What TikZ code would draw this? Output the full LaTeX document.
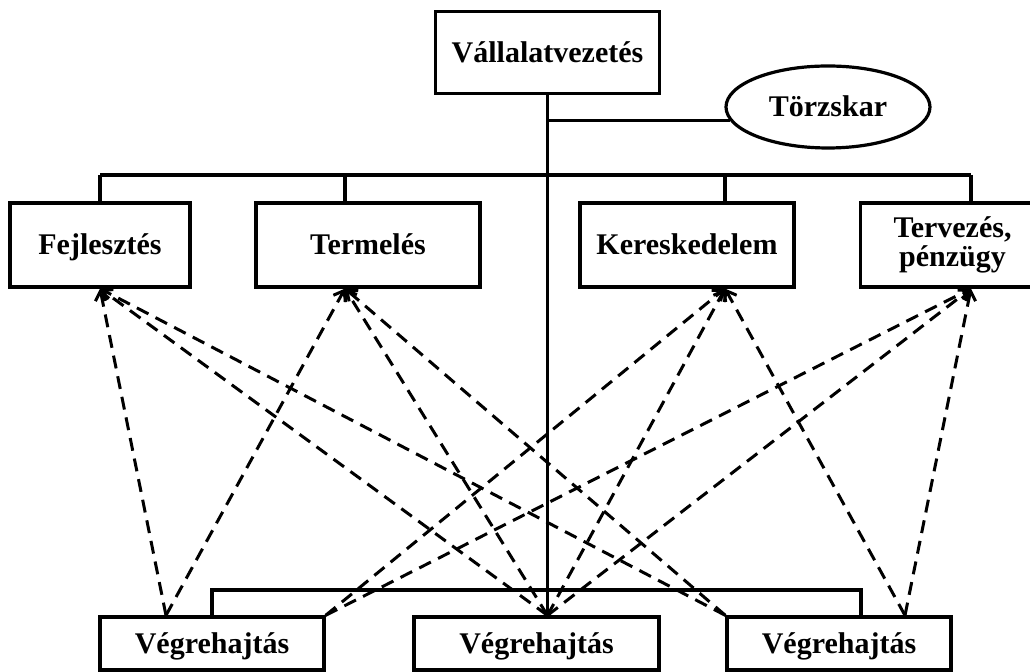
\documentclass[tikz,border=0pt]{standalone}
\usepackage{fontspec}
\setmainfont{Liberation Serif}
\usetikzlibrary{arrows.meta, shapes.geometric}

\begin{document}
\begin{tikzpicture}[
    x=0.5pt, y=-0.5pt,
    font=\fontsize{15}{14.5}\selectfont\bfseries,
    box/.style={rectangle, draw, line width=1.6pt, align=center,
        minimum height=42pt, inner sep=3pt},
    unit/.style={box, text height=10pt, text depth=0pt},
    exec/.style={unit, minimum height=26.5pt, minimum width=112pt},
    link/.style={line width=1.6pt},
    flow/.style={line width=1.5pt, dash pattern=on 6.5pt off 4pt,
        -{Straight Barb[length=4.5pt, width=7pt]}},
]
\useasboundingbox (0,0) rectangle (1030,672);

% ---- Top: management and staff ----
\node[unit, minimum width=112pt, minimum height=41pt] (vv) at (547.5,52.5) {Vállalatvezetés};
\node[ellipse, draw, line width=1.6pt, minimum width=102pt, minimum height=41pt,
    inner sep=0pt, text height=10pt, text depth=0pt] (torzs) at (828,107) {Törzskar};

% ---- Middle row: functional units ----
\node[unit, minimum width=90pt] (fejl) at (100,245) {Fejlesztés};
\node[unit, minimum width=112pt] (term) at (368,245) {Termelés};
\node[unit, minimum width=107pt] (ker) at (687,245) {Kereskedelem};
\node[box, minimum width=92pt] (terv) at (952.5,245) {Tervezés,\\ pénzügy};

% ---- Bottom row: execution ----
\node[exec] (v1) at (212,643.5) {Végrehajtás};
\node[exec, minimum width=122.5pt] (v2) at (536.5,643.5) {Végrehajtás};
\node[exec] (v3) at (839,643.5) {Végrehajtás};

% ---- Helper points ----
\coordinate (bus) at (0,175);
\coordinate (lowbus) at (0,590);
\coordinate (dF) at (fejl.south);
\coordinate (dT) at (345,0 |- term.south);
\coordinate (dK) at (725,0 |- ker.south);
\coordinate (dP) at (971,0 |- terv.south);
\coordinate (eC) at (861,0 |- v3.north);
\coordinate (v1a) at (166,0 |- v1.north);
\coordinate (v1b) at (v1.north east);
\coordinate (v2a) at (vv.south |- v2.north);
\coordinate (v3a) at (v3.north west);
\coordinate (v3b) at (905,0 |- v3.north);

% ---- Line organisation (solid) ----
\draw[link] (vv.south) -- (v2a);
\draw[link] (vv.south |- torzs.188) -- (torzs.188);
\draw[link] (dF |- bus) -- (dP |- bus);
\foreach \d/\n in {dF/fejl, dT/term, dK/ker, dP/terv}
    \draw[link] (\d |- bus) -- (\d |- \n.north);
\draw[link] (v1.north) |- (eC |- lowbus) -- (eC);

% ---- Functional links (dashed) ----
\foreach \s/\t in {v1a/dF, v2a/dF, v3a/dF, v1a/dT, v2a/dT, v3a/dT,
                   v1b/dK, v2a/dK, v3b/dK, v1b/dP, v2a/dP, v3b/dP}
    \draw[flow] (\s) -- (\t);

\end{tikzpicture}
\end{document}
